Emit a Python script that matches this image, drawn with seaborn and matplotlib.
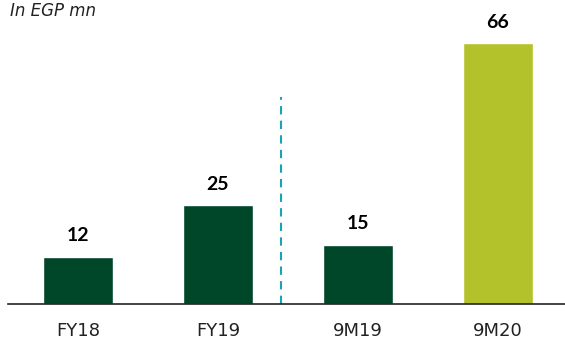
import matplotlib
matplotlib.use("Agg")
import matplotlib.pyplot as plt
import seaborn as sns
import pandas as pd

periods = ["FY18", "FY19", "9M19", "9M20"]
values = [12, 25, 15, 66]
bar_colors = ["#00472a", "#00472a", "#00472a", "#b3c22a"]

sns.set_style("white")
plt.rcParams["font.family"] = ["DejaVu Sans"]

data = pd.DataFrame({"period": periods, "value": values})

fig = plt.figure(figsize=(5.65, 3.42), dpi=100)
ax = fig.add_axes([8 / 565, 38 / 342, 557 / 565, 304 / 342])

sns.barplot(data=data, x="period", y="value", hue="period", palette=bar_colors,
            width=0.5, legend=False, saturation=1, ax=ax)

# value labels above the bars
for i, v in enumerate(values):
    ax.annotate(str(v), (i, v), xytext=(0, 9), textcoords="offset points",
                ha="center", va="bottom", fontsize=14, fontweight="bold",
                family=["Lato", "DejaVu Sans"], fontstyle="normal", color="black")

ax.axvline(1.45, ymin=0, ymax=(304 - 97) / 304, color="#1aa3b5", linestyle=(0, (4, 3)), linewidth=1.5)

ax.set_xlim(-0.5, 3.479)
ax.set_ylim(0, 76.9)
ax.set_xlabel("")
ax.set_ylabel("")
ax.set_yticks([])
ax.tick_params(axis="x", length=0, pad=13, labelsize=13, labelcolor="#222222")
for side in ["top", "right", "left"]:
    ax.spines[side].set_visible(False)
ax.spines["bottom"].set_color("#222222")
ax.spines["bottom"].set_linewidth(1.2)

fig.text(10 / 565, 1 - 11 / 342, "In EGP mn", fontsize=12, style="italic", va="center", ha="left", color="#222222")

fig.savefig("out.png", dpi=100)
